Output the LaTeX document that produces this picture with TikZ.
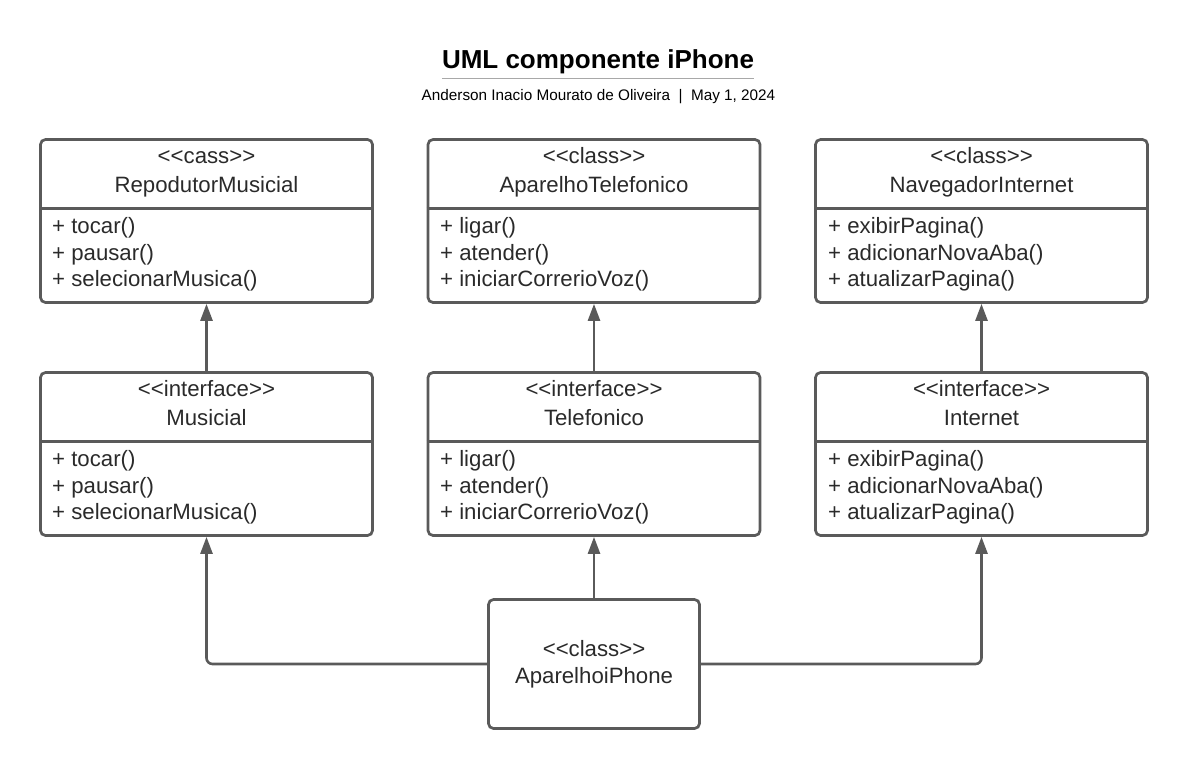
\documentclass[tikz,border=0pt]{standalone}
\usepackage{fontspec}
\setmainfont{Liberation Sans}
\usetikzlibrary{arrows.meta}
\definecolor{linegray}{HTML}{5A5A5A}
\definecolor{textgray}{HTML}{2A2A2A}
\definecolor{rulegray}{HTML}{A8A8A8}
\newcommand{\umlstereo}[1]{<\kern0pt<#1>\kern0pt>}
\tikzset{
	umlbox/.style={draw=linegray, line width=2.7pt, rounded corners=5pt, minimum width=332pt, minimum height=163pt, inner sep=0pt},
	headtext/.style={text=textgray, font=\fontsize{22.2}{29}\selectfont, align=center, inner sep=0pt, anchor=base},
	membertext/.style={text=textgray, font=\fontsize{22.2}{26.7}\selectfont, align=left, inner sep=0pt, anchor=base west},
	divider/.style={draw=linegray, line width=2.7pt},
	inherit/.style={draw=linegray, line width=2.6pt, rounded corners=6pt, -{Triangle[length=17pt,width=12pt]}},
}
\begin{document}
\begin{tikzpicture}[x=1pt, y=-1pt]
	\useasboundingbox (0,0) rectangle (1199,769);
	% title
	\node[font=\bfseries\fontsize{26}{30}\selectfont, anchor=base, inner sep=0pt] (title) at (598,68.3) {UML componente iPhone};
	\draw[rulegray, line width=1.3pt] ([yshift=-10pt]title.base west) -- ([yshift=-10pt]title.base east);
	\node[font=\fontsize{15.3}{18}\selectfont, anchor=base, inner sep=0pt] (subtitle) at (598.5,100) {Anderson Inacio Mourato de Oliveira\ \ |\ \ May 1, 2024};
	% classes
	\node[umlbox] (rep) at (206.5,221) {};
	\draw[divider] ([yshift=-70pt]rep.north west) -- ([yshift=-70pt]rep.north east);
	\node[headtext] (rep-head) at (206.5,192.5) {\umlstereo{cass}\\RepodutorMusicial};
	\node[membertext] (rep-ops) at (52,286.7) {+ tocar()\\+ pausar()\\+ selecionarMusica()};
	\node[umlbox] (tel) at (594,221) {};
	\draw[divider] ([yshift=-70pt]tel.north west) -- ([yshift=-70pt]tel.north east);
	\node[headtext] (tel-head) at (594,192.5) {\umlstereo{class}\\AparelhoTelefonico};
	\node[membertext] (tel-ops) at (440,286.7) {+ ligar()\\+ atender()\\+ iniciarCorrerioVoz()};
	\node[umlbox] (nav) at (981.5,221) {};
	\draw[divider] ([yshift=-70pt]nav.north west) -- ([yshift=-70pt]nav.north east);
	\node[headtext] (nav-head) at (981.5,192.5) {\umlstereo{class}\\NavegadorInternet};
	\node[membertext] (nav-ops) at (828,286.7) {+ exibirPagina()\\+ adicionarNovaAba()\\+ atualizarPagina()};
	% interfaces
	\node[umlbox] (mus) at (206.5,454) {};
	\draw[divider] ([yshift=-70pt]mus.north west) -- ([yshift=-70pt]mus.north east);
	\node[headtext] (mus-head) at (206.5,425.5) {\umlstereo{interface}\\Musicial};
	\node[membertext] (mus-ops) at (52,519.7) {+ tocar()\\+ pausar()\\+ selecionarMusica()};
	\node[umlbox] (tfn) at (594,454) {};
	\draw[divider] ([yshift=-70pt]tfn.north west) -- ([yshift=-70pt]tfn.north east);
	\node[headtext] (tfn-head) at (594,425.5) {\umlstereo{interface}\\Telefonico};
	\node[membertext] (tfn-ops) at (440,519.7) {+ ligar()\\+ atender()\\+ iniciarCorrerioVoz()};
	\node[umlbox] (int) at (981.5,454) {};
	\draw[divider] ([yshift=-70pt]int.north west) -- ([yshift=-70pt]int.north east);
	\node[headtext] (int-head) at (981.5,425.5) {\umlstereo{interface}\\Internet};
	\node[membertext] (int-ops) at (828,519.7) {+ exibirPagina()\\+ adicionarNovaAba()\\+ atualizarPagina()};
	% iPhone
	\node[umlbox, minimum width=211pt, minimum height=129pt, text=textgray, font=\fontsize{22.2}{26.7}\selectfont, align=center] (iph) at (594,664) {\umlstereo{class}\\AparelhoiPhone};
	% connectors
	\draw[inherit] (mus) -- (rep);
	\draw[inherit] (tfn) -- (tel);
	\draw[inherit] (int) -- (nav);
	\draw[inherit] (iph.west) -| (mus.south);
	\draw[inherit] (iph.north) -- (tfn.south);
	\draw[inherit] (iph.east) -| (int.south);
\end{tikzpicture}
\end{document}
